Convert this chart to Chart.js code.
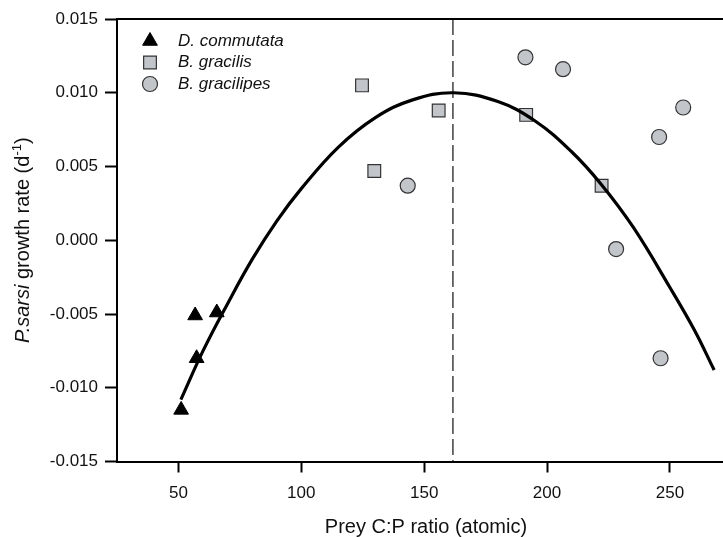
<!DOCTYPE html>
<html>
<head>
<meta charset="utf-8">
<style>
  html, body { margin: 0; padding: 0; background: #fff; overflow: hidden; }
</style>
<script src="https://cdn.jsdelivr.net/npm/chart.js@4.4.0/dist/chart.umd.min.js"></script>
</head>
<body>
<canvas id="myChart" width="723" height="537"></canvas>
<script>
// values
const commutataX = [51.1, 56.8, 57.4, 65.6];
const commutataY = [-0.0115, -0.0051, -0.0080, -0.0049];
const gracilisX = [124.7, 129.7, 155.9, 191.5, 222.2];
const gracilisY = [0.0105, 0.0047, 0.0088, 0.0085, 0.0037];
const gracilipesX = [143.3, 191.2, 206.5, 228.1, 245.6, 246.2, 255.4];
const gracilipesY = [0.0037, 0.0124, 0.0116, -0.0006, 0.0070, -0.0080, 0.0090];

// fitted curve
const fitX = [51, 60, 70, 80, 90, 100, 115, 130, 145, 162, 180, 195, 210, 222, 235, 250, 260, 268];
const fitY = [-0.0108, -0.0075, -0.0043, -0.0013, 0.0013, 0.0035, 0.0063, 0.0083, 0.0095, 0.0100, 0.0094, 0.0081, 0.0060, 0.0038, 0.0009, -0.0032, -0.0061, -0.0088];

const optimumX = 161.7;

const xTicks = [50, 100, 150, 200, 250];
const yTicks = [-0.015, -0.010, -0.005, 0, 0.005, 0.010, 0.015];
const seriesNames = ["D. commutata", "B. gracilis", "B. gracilipes"];

const FONT = "'Liberation Sans', Arial, sans-serif";
const markerFill = "#c2c6cb";
const markerEdge = "#333333";

const toPoints = (xs, ys) => xs.map((x, i) => ({ x: x, y: ys[i] }));

const data = {
  datasets: [
    {
      label: seriesNames[0],
      data: toPoints(commutataX, commutataY),
      pointStyle: "triangle",
      pointRadius: 8.5,
      backgroundColor: "#000",
      borderColor: "#000",
      borderWidth: 1,
      order: 1,
    },
    {
      label: seriesNames[1],
      data: toPoints(gracilisX, gracilisY),
      pointStyle: "rect",
      pointRadius: 9,
      backgroundColor: markerFill,
      borderColor: markerEdge,
      borderWidth: 1.2,
      order: 1,
    },
    {
      label: seriesNames[2],
      data: toPoints(gracilipesX, gracilipesY),
      pointStyle: "circle",
      pointRadius: 7.5,
      backgroundColor: markerFill,
      borderColor: markerEdge,
      borderWidth: 1.2,
      order: 1,
    },
    {
      label: "fit",
      type: "line",
      data: toPoints(fitX, fitY),
      showLine: true,
      borderColor: "#000",
      borderWidth: 3.2,
      pointRadius: 0,
      tension: 0.4,
      fill: false,
      order: 0,
    },
    {
      label: "optimum",
      type: "line",
      data: [
        { x: optimumX, y: yTicks[yTicks.length - 1] },
        { x: optimumX, y: yTicks[0] },
      ],
      showLine: true,
      borderColor: "#222",
      borderWidth: 1.3,
      borderDash: [16, 5],
      pointRadius: 0,
      fill: false,
      order: 2,
    },
  ],
};

// frame top, axis titles and the legend inside the plot
const decorations = {
  id: "decorations",
  afterDraw(chart) {
    const { ctx, chartArea } = chart;
    ctx.save();

    ctx.strokeStyle = "#000";
    ctx.lineWidth = 2;
    ctx.beginPath();
    ctx.moveTo(chartArea.left, chartArea.top);
    ctx.lineTo(chartArea.right, chartArea.top);
    ctx.stroke();

    // x title
    ctx.fillStyle = "#111";
    ctx.font = "20px " + FONT;
    ctx.textAlign = "center";
    ctx.textBaseline = "alphabetic";
    ctx.fillText("Prey C:P ratio (atomic)", 426, chart.height - 4);

    // y title, mixed styles
    const parts = [
      { t: "P.sarsi", f: "italic 20px " + FONT, dy: 0 },
      { t: " growth rate (d", f: "20px " + FONT, dy: 0 },
      { t: "-1", f: "13px " + FONT, dy: -8 },
      { t: ")", f: "20px " + FONT, dy: 0 },
    ];
    let total = 0;
    parts.forEach((p) => { ctx.font = p.f; p.w = ctx.measureText(p.t).width; total += p.w; });
    ctx.translate(29, (chartArea.top + chartArea.bottom) / 2);
    ctx.rotate(-Math.PI / 2);
    ctx.textAlign = "left";
    let cx = -total / 2;
    parts.forEach((p) => { ctx.font = p.f; ctx.fillText(p.t, cx, p.dy); cx += p.w; });
    ctx.setTransform(1, 0, 0, 1, 0, 0);

    // legend
    const mx = chartArea.left + 33;
    const tx = chartArea.left + 61;
    let y = chartArea.top + 22;
    seriesNames.forEach((name, i) => {
      const ds = chart.data.datasets[i];
      ctx.fillStyle = ds.backgroundColor;
      ctx.strokeStyle = ds.borderColor;
      ctx.lineWidth = ds.borderWidth;
      Chart.helpers.drawPoint(ctx, {
        pointStyle: ds.pointStyle,
        radius: ds.pointRadius,
        borderWidth: ds.borderWidth,
        rotation: 0,
      }, mx, y);
      ctx.fillStyle = "#111";
      ctx.font = "italic 17px " + FONT;
      ctx.textAlign = "left";
      ctx.textBaseline = "middle";
      ctx.fillText(name, tx, y);
      y += 21.5;
    });

    ctx.restore();
  },
};

const config = {
  type: "scatter",
  data: data,
  options: {
    responsive: false,
    animation: false,
    devicePixelRatio: 1,
    layout: { autoPadding: false, padding: { top: 19, right: 0, left: 0, bottom: 0 } },
    scales: {
      x: {
        type: "linear",
        min: 25,
        max: 271.6,
        afterBuildTicks: (s) => { s.ticks = xTicks.map((v) => ({ value: v })); },
        afterFit: (s) => { s.height = 75.5; },
        grid: { drawOnChartArea: false, tickLength: 11, tickWidth: 2, tickColor: "#000" },
        border: { color: "#000", width: 2 },
        ticks: {
          color: "#111",
          font: { family: FONT, size: 17 },
          padding: 11,
          maxRotation: 0,
        },
      },
      y: {
        type: "linear",
        min: yTicks[0],
        max: yTicks[yTicks.length - 1],
        afterBuildTicks: (s) => { s.ticks = yTicks.map((v) => ({ value: v })); },
        afterFit: (s) => { s.width = 117; },
        grid: { drawOnChartArea: false, tickLength: 12, tickWidth: 2, tickColor: "#000" },
        border: { color: "#000", width: 2 },
        ticks: {
          color: "#111",
          font: { family: FONT, size: 17 },
          padding: 7,
          callback: (v) => Number(v).toFixed(3),
        },
      },
    },
    plugins: {
      legend: { display: false },
      tooltip: { enabled: false },
    },
  },
  plugins: [decorations],
};

const myChart = new Chart(document.getElementById("myChart"), config);
</script>
</body>
</html>
